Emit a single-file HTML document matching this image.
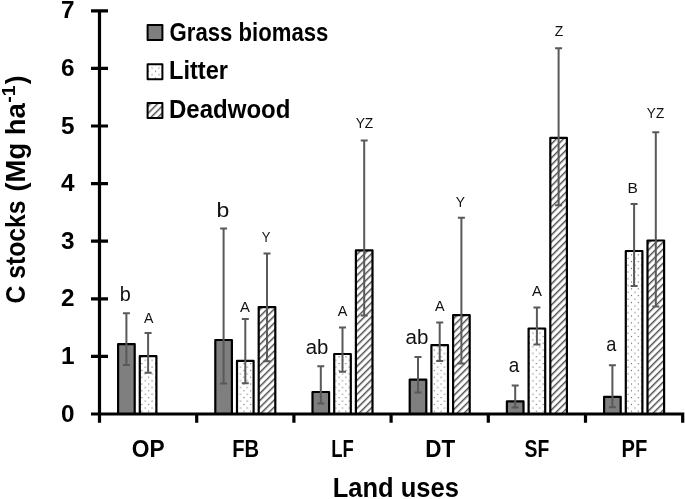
<!DOCTYPE html>
<html><head><meta charset="utf-8"><style>
html,body{margin:0;padding:0;background:#fff;}
svg{display:block;filter:grayscale(1);}
text{font-family:"Liberation Sans",sans-serif;}
</style></head><body>
<svg width="685" height="499" viewBox="0 0 685 499">
<defs>
<pattern id="dots" patternUnits="userSpaceOnUse" width="6.8" height="6.8" patternTransform="translate(1.5 5.6)">
<rect width="6.8" height="6.8" fill="#fff"/>
<circle cx="1" cy="1" r="0.6" fill="#444"/>
<circle cx="4.4" cy="4.4" r="0.6" fill="#444"/>
</pattern>
<pattern id="hatch" patternUnits="userSpaceOnUse" width="4.95" height="10" patternTransform="translate(0 1.2) rotate(45)">
<rect width="4.95" height="10" fill="#fff"/>
<rect x="0" y="0" width="1.5" height="10" fill="#585858"/>
</pattern>
</defs>
<rect width="685" height="499" fill="#fff"/>
<rect x="118.10" y="344.10" width="16.60" height="69.90" fill="#7f7f7f" stroke="#000" stroke-width="2.2" stroke-linejoin="round"/>
<rect x="139.80" y="356.10" width="16.60" height="57.90" fill="url(#dots)" stroke="#000" stroke-width="2.2" stroke-linejoin="round"/>
<rect x="215.30" y="340.00" width="16.60" height="74.00" fill="#7f7f7f" stroke="#000" stroke-width="2.2" stroke-linejoin="round"/>
<rect x="237.00" y="360.80" width="16.60" height="53.20" fill="url(#dots)" stroke="#000" stroke-width="2.2" stroke-linejoin="round"/>
<rect x="258.70" y="307.10" width="16.60" height="106.90" fill="url(#hatch)" stroke="#000" stroke-width="2.2" stroke-linejoin="round"/>
<rect x="312.50" y="392.00" width="16.60" height="22.00" fill="#7f7f7f" stroke="#000" stroke-width="2.2" stroke-linejoin="round"/>
<rect x="334.20" y="354.00" width="16.60" height="60.00" fill="url(#dots)" stroke="#000" stroke-width="2.2" stroke-linejoin="round"/>
<rect x="355.90" y="250.30" width="16.60" height="163.70" fill="url(#hatch)" stroke="#000" stroke-width="2.2" stroke-linejoin="round"/>
<rect x="409.70" y="379.60" width="16.60" height="34.40" fill="#7f7f7f" stroke="#000" stroke-width="2.2" stroke-linejoin="round"/>
<rect x="431.40" y="345.20" width="16.60" height="68.80" fill="url(#dots)" stroke="#000" stroke-width="2.2" stroke-linejoin="round"/>
<rect x="453.10" y="315.10" width="16.60" height="98.90" fill="url(#hatch)" stroke="#000" stroke-width="2.2" stroke-linejoin="round"/>
<rect x="506.90" y="401.30" width="16.60" height="12.70" fill="#7f7f7f" stroke="#000" stroke-width="2.2" stroke-linejoin="round"/>
<rect x="528.60" y="328.50" width="16.60" height="85.50" fill="url(#dots)" stroke="#000" stroke-width="2.2" stroke-linejoin="round"/>
<rect x="550.30" y="137.90" width="16.60" height="276.10" fill="url(#hatch)" stroke="#000" stroke-width="2.2" stroke-linejoin="round"/>
<rect x="604.10" y="396.80" width="16.60" height="17.20" fill="#7f7f7f" stroke="#000" stroke-width="2.2" stroke-linejoin="round"/>
<rect x="625.80" y="251.00" width="16.60" height="163.00" fill="url(#dots)" stroke="#000" stroke-width="2.2" stroke-linejoin="round"/>
<rect x="647.50" y="240.50" width="16.60" height="173.50" fill="url(#hatch)" stroke="#000" stroke-width="2.2" stroke-linejoin="round"/>
<path d="M126.40 313.20V365.00M122.90 313.20H129.90M122.90 365.00H129.90M148.10 332.90V372.80M144.60 332.90H151.60M144.60 372.80H151.60M223.60 228.40V383.60M220.10 228.40H227.10M220.10 383.60H227.10M245.30 318.90V383.30M241.80 318.90H248.80M241.80 383.30H248.80M267.00 253.50V361.30M263.50 253.50H270.50M263.50 361.30H270.50M320.80 366.20V403.60M317.30 366.20H324.30M317.30 403.60H324.30M342.50 327.60V371.70M339.00 327.60H346.00M339.00 371.70H346.00M364.20 140.50V315.50M360.70 140.50H367.70M360.70 315.50H367.70M418.00 357.10V392.50M414.50 357.10H421.50M414.50 392.50H421.50M439.70 322.50V360.90M436.20 322.50H443.20M436.20 360.90H443.20M461.40 217.70V363.60M457.90 217.70H464.90M457.90 363.60H464.90M515.20 385.60V407.40M511.70 385.60H518.70M511.70 407.40H518.70M536.90 307.40V344.50M533.40 307.40H540.40M533.40 344.50H540.40M558.60 48.20V205.30M555.10 48.20H562.10M555.10 205.30H562.10M612.40 365.20V407.20M608.90 365.20H615.90M608.90 407.20H615.90M634.10 204.00V286.00M630.60 204.00H637.60M630.60 286.00H637.60M655.80 132.20V306.50M652.30 132.20H659.30M652.30 306.50H659.30" stroke="#595959" stroke-width="2" fill="none"/>
<path d="M99.5 10.8V422.7M91 10.80H108M91 68.40H108M91 126.00H108M91 183.60H108M91 241.20H108M91 298.80H108M91 356.40H108M91 414.00H108M91 414.0H684.3M99.50 414.0V422.7M196.70 414.0V422.7M293.90 414.0V422.7M391.10 414.0V422.7M488.30 414.0V422.7M585.50 414.0V422.7M682.70 414.0V422.7" stroke="#000" stroke-width="3.2" fill="none" stroke-linejoin="round"/>
<text x="74.5" y="18.40" font-size="24.3" font-weight="bold" text-anchor="end">7</text>
<text x="74.5" y="76.00" font-size="24.3" font-weight="bold" text-anchor="end">6</text>
<text x="74.5" y="133.60" font-size="24.3" font-weight="bold" text-anchor="end">5</text>
<text x="74.5" y="191.20" font-size="24.3" font-weight="bold" text-anchor="end">4</text>
<text x="74.5" y="248.80" font-size="24.3" font-weight="bold" text-anchor="end">3</text>
<text x="74.5" y="306.40" font-size="24.3" font-weight="bold" text-anchor="end">2</text>
<text x="74.5" y="364.00" font-size="24.3" font-weight="bold" text-anchor="end">1</text>
<text x="74.5" y="421.60" font-size="24.3" font-weight="bold" text-anchor="end">0</text>
<rect x="147.6" y="25" width="14.8" height="15" fill="#7f7f7f" stroke="#000" stroke-width="2" stroke-linejoin="round"/>
<rect x="147.6" y="64.3" width="14.8" height="15" fill="url(#dots)" stroke="#000" stroke-width="2" stroke-linejoin="round"/>
<rect x="147.6" y="103" width="14.8" height="15" fill="url(#hatch)" stroke="#000" stroke-width="2" stroke-linejoin="round"/>
<text transform="matrix(1.0171 0 0 1 119.83 301.48)" font-size="19.5" font-weight="normal" fill="#111">b</text>
<text transform="matrix(0.9400 0 0 1 144.00 322.98)" font-size="15" font-weight="normal" fill="#111">A</text>
<text transform="matrix(1.1771 0 0 1 216.53 217.18)" font-size="19.5" font-weight="normal" fill="#111">b</text>
<text transform="matrix(0.9900 0 0 1 240.00 311.88)" font-size="15" font-weight="normal" fill="#111">A</text>
<text transform="matrix(0.8667 0 0 1 261.77 242.18)" font-size="15" font-weight="normal" fill="#111">Y</text>
<text transform="matrix(1.0420 0 0 1 305.82 353.98)" font-size="19.5" font-weight="normal" fill="#111">ab</text>
<text transform="matrix(0.9600 0 0 1 337.70 316.43)" font-size="15" font-weight="normal" fill="#111">A</text>
<text transform="matrix(0.9205 0 0 1 355.64 128.28)" font-size="15" font-weight="normal" fill="#111">YZ</text>
<text transform="matrix(1.0519 0 0 1 405.61 343.67)" font-size="19.5" font-weight="normal" fill="#111">ab</text>
<text transform="matrix(0.9600 0 0 1 435.00 310.77)" font-size="15" font-weight="normal" fill="#111">A</text>
<text transform="matrix(0.9222 0 0 1 455.64 206.78)" font-size="15" font-weight="normal" fill="#111">Y</text>
<text transform="matrix(0.9700 0 0 1 508.87 371.77)" font-size="19.5" font-weight="normal" fill="#111">a</text>
<text transform="matrix(0.9900 0 0 1 532.10 295.98)" font-size="15" font-weight="normal" fill="#111">A</text>
<text transform="matrix(0.9333 0 0 1 554.83 35.77)" font-size="15" font-weight="normal" fill="#111">Z</text>
<text transform="matrix(0.9300 0 0 1 606.30 351.32)" font-size="19.5" font-weight="normal" fill="#111">a</text>
<text transform="matrix(1.0375 0 0 1 627.60 193.32)" font-size="15" font-weight="normal" fill="#111">B</text>
<text transform="matrix(0.9041 0 0 1 646.85 118.03)" font-size="15" font-weight="normal" fill="#111">YZ</text>
<text transform="matrix(0.9466 0 0 1 131.75 456.85)" font-size="24" font-weight="bold" fill="#000">OP</text>
<text transform="matrix(0.8407 0 0 1 232.24 456.70)" font-size="24" font-weight="bold" fill="#000">FB</text>
<text transform="matrix(0.7704 0 0 1 331.24 456.70)" font-size="24" font-weight="bold" fill="#000">LF</text>
<text transform="matrix(0.9355 0 0 1 425.30 456.70)" font-size="24" font-weight="bold" fill="#000">DT</text>
<text transform="matrix(0.8069 0 0 1 524.49 456.70)" font-size="24" font-weight="bold" fill="#000">SF</text>
<text transform="matrix(0.8389 0 0 1 621.54 456.70)" font-size="24" font-weight="bold" fill="#000">PF</text>
<text transform="matrix(0.8858 0 0 1 169.61 40.50)" font-size="25" font-weight="bold" fill="#000">Grass biomass</text>
<text transform="matrix(0.9444 0 0 1 169.05 79.10)" font-size="25" font-weight="bold" fill="#000">Litter</text>
<text transform="matrix(0.9610 0 0 1 169.02 117.80)" font-size="25" font-weight="bold" fill="#000">Deadwood</text>
<text transform="matrix(0.9278 0 0 1 332.78 496.60)" font-size="27.5" font-weight="bold" fill="#000">Land uses</text>
<g transform="translate(25.2 302.3) rotate(-90)">
<text transform="matrix(0.8989 0 0 1 -1.12 0.00)" font-size="27.5" font-weight="bold">C stocks</text>
<text transform="matrix(0.9983 0 0 1 110.70 0.00)" font-size="27.5" font-weight="bold">(Mg ha</text>
<text transform="matrix(1.1172 0 0 1 199.46 -10.20)" font-size="17.6" font-weight="bold">-1</text>
<text transform="matrix(0.9600 0 0 1 218.06 0.00)" font-size="27.5" font-weight="bold">)</text>
</g>
</svg>
</body></html>
